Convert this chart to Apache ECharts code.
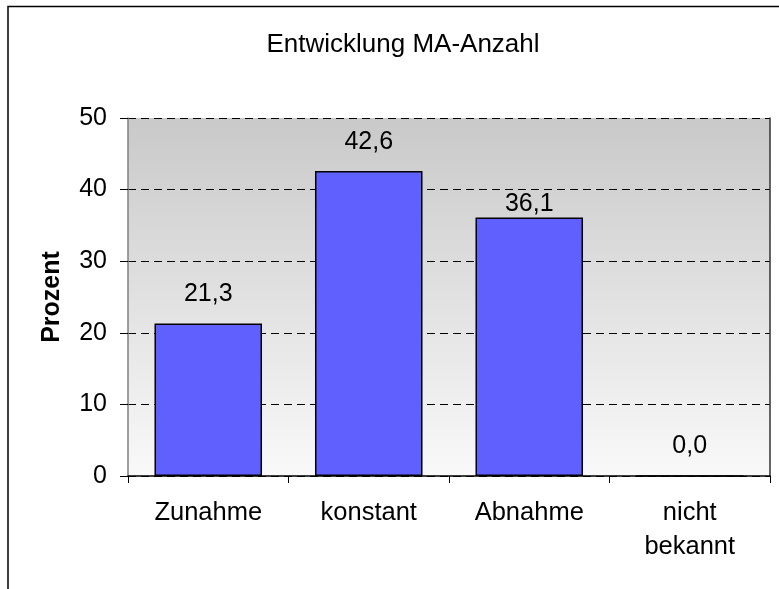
<!DOCTYPE html>
<html>
<head>
<meta charset="utf-8">
<script src="https://cdn.jsdelivr.net/npm/echarts@6/dist/echarts.min.js"></script>
<style>
html,body{margin:0;padding:0;background:#fff;}
#c{width:779px;height:589px;}
</style>
</head>
<body>
<div id="c"></div>
<script>
const titleText = 'Entwicklung MA-Anzahl';
const yAxisName = 'Prozent';
const categories = ['Zunahme', 'konstant', 'Abnahme', 'nicht\nbekannt'];
const values = [21.3, 42.6, 36.1, 0.0];
const labelDistances = [17, 16, 1, 17];
const yTicks = [0, 10, 20, 30, 40, 50];

const FONT = '"Liberation Sans", Arial, sans-serif';
const chart = echarts.init(document.getElementById('c'), null, {renderer: 'canvas'});

chart.setOption({
  animation: false,
  backgroundColor: '#ffffff',
  title: {
    text: titleText,
    left: 398,
    top: 27,
    textAlign: 'center',
    textStyle: {fontFamily: FONT, fontSize: 26, fontWeight: 'normal', color: '#000'}
  },
  graphic: [{
    type: 'rect',
    shape: {x: 8, y: 6.5, width: 900, height: 900},
    style: {fill: 'none', stroke: '#000', lineWidth: 1.5},
    silent: true
  }],
  grid: {
    left: 128, top: 118, right: 9, bottom: 113,
    show: true,
    borderWidth: 0,
    backgroundColor: new echarts.graphic.LinearGradient(0, 0, 0, 1, [
      {offset: 0, color: '#c9c9c9'},
      {offset: 1, color: '#f9f9f9'}
    ])
  },
  xAxis: {
    type: 'category',
    data: categories,
    boundaryGap: true,
    axisLine: {lineStyle: {color: '#000', width: 1.5}},
    axisTick: {show: true, length: 7, inside: false, lineStyle: {color: '#000', width: 1}},
    axisLabel: {
      fontFamily: FONT, fontSize: 25.5, color: '#000',
      margin: 20, lineHeight: 34, interval: 0
    }
  },
  yAxis: [{
    type: 'value',
    min: 0, max: 50, interval: 10,
    name: yAxisName,
    nameLocation: 'middle',
    nameGap: 63,
    nameRotate: 90,
    nameTextStyle: {fontFamily: FONT, fontSize: 25, fontWeight: 'bold', color: '#000'},
    axisLine: {show: true, lineStyle: {color: '#808080', width: 1.5}},
    axisTick: {show: true, length: 8, lineStyle: {color: '#000', width: 1}},
    axisLabel: {
      fontFamily: FONT, fontSize: 25, color: '#000', margin: 21,
      formatter: v => yTicks.indexOf(v) >= 0 ? String(v) : ''
    },
    splitLine: {show: true, lineStyle: {color: '#000', type: [8, 5], width: 1}}
  }, {
    type: 'value',
    min: 0, max: 50, interval: 10,
    position: 'right',
    axisLine: {show: true, lineStyle: {color: '#333', width: 1.5}},
    axisTick: {show: false},
    axisLabel: {show: false},
    splitLine: {show: false}
  }],
  series: [{
    type: 'bar',
    yAxisIndex: 0,
    barWidth: '67%',
    data: values.map((v, i) => ({
      value: v,
      label: {distance: labelDistances[i]}
    })),
    itemStyle: {color: '#6060FF', borderColor: '#000', borderWidth: 1.5},
    label: {
      show: true,
      position: 'top',
      fontFamily: FONT, fontSize: 25, color: '#000',
      formatter: p => p.value.toFixed(1).replace('.', ',')
    }
  }]
});
</script>
</body>
</html>
